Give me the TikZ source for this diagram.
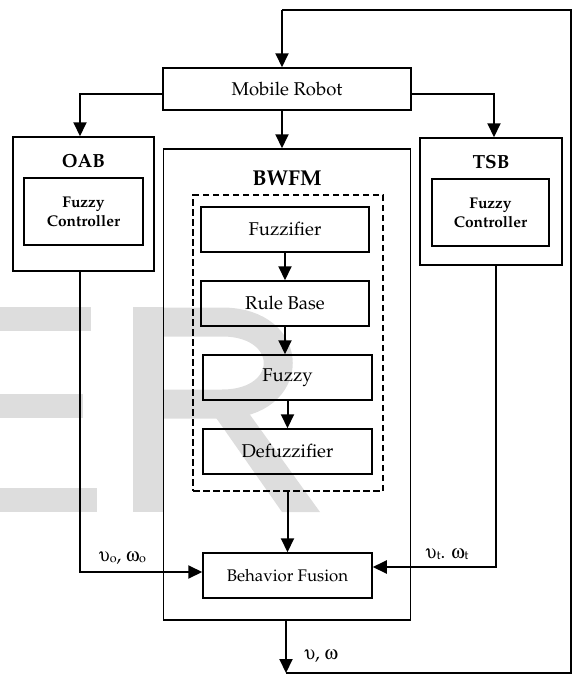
\documentclass[tikz,border=0pt]{standalone}
\usepackage[T1]{fontenc}
\usepackage{mathpazo}
\usepackage[Symbol]{upgreek}
\usetikzlibrary{arrows.meta}

\definecolor{wmgray}{RGB}{221,221,221}

% small lowered index letter used in the signal labels
\newcommand{\sigidx}[1]{\raisebox{-1pt}{\fontsize{12.5}{14}\selectfont #1}}

\tikzset{
  box/.style={draw=black, line width=1.5pt, rectangle, inner sep=0pt,
    font=\fontsize{18.5}{21}\selectfont},
  smallbox/.style={box, align=center,
    font=\fontsize{15.5}{19}\selectfont\bfseries},
  title/.style={font=\fontsize{19}{22}\selectfont\bfseries, inner sep=0pt},
  groupbox/.style={draw=black, line width=1.4pt, dashed,
    dash pattern=on 6.5pt off 3.5pt, rectangle, inner sep=0pt},
  conn/.style={draw=black, line width=2pt,
    -{Triangle[length=14pt,width=13pt]}},
  plain/.style={draw=black, line width=2pt},
  sig/.style={font=\fontsize{19}{21}\selectfont, inner sep=0pt},
}

\begin{document}
\begin{tikzpicture}[x=1pt, y=-1pt]
\useasboundingbox (0,0) rectangle (572,675);

% light background lettering
\begin{scope}[fill=wmgray]
  \fill (0,307) rectangle (91,331);
  \fill (0,394) rectangle (83,418);
  \fill (0,488) rectangle (97,512);
  \fill (133,307) rectangle (163,512);
  \draw[wmgray, line width=29pt] (148,322) -- (222,322)
    .. controls (297,322) and (297,404) .. (222,404) -- (148,404);
  \fill (212,412) -- (248,412) -- (320,512) -- (282,512) -- cycle;
\end{scope}

% main blocks
\node[box, minimum width=248pt, minimum height=42pt] (robot) at (287,89) {Mobile Robot};

\node[box, minimum width=141pt, minimum height=134pt] (oab) at (83.5,204) {};
\node[title] (oabt) at (83.5,161) {OAB};
\node[smallbox, minimum width=119pt, minimum height=67pt] (oabfc) at (83.5,211.5) {Fuzzy\\Controller};

\node[box, minimum width=142pt, minimum height=127pt] (tsb) at (491,201.5) {};
\node[title] (tsbt) at (491,162) {TSB};
\node[smallbox, minimum width=117pt, minimum height=67pt] (tsbfc) at (490.5,212.5) {Fuzzy\\Controller};

\node[box, minimum width=247pt, minimum height=471pt] (bwfm) at (287,384.5) {};
\node[title, font=\fontsize{21.5}{24}\selectfont\bfseries] (bwfmt) at (287,178) {BWFM};
\node[groupbox, minimum width=190pt, minimum height=296pt] (group) at (288,343) {};

\node[box, minimum width=168pt, minimum height=45pt] (fuzzifier) at (285,229.5) {Fuzzifier};
\node[box, minimum width=168pt, minimum height=45pt] (rulebase) at (285,303.5) {Rule Base};
\node[box, minimum width=169pt, minimum height=45pt] (fuzzy) at (287.5,377.5) {Fuzzy};
\node[box, minimum width=169pt, minimum height=45pt] (defuzz) at (287.5,451.5) {Defuzzifier};
\node[box, minimum width=169pt, minimum height=45pt,
  font=\fontsize{16.8}{20}\selectfont] (fusion) at (287.5,575.5) {Behavior Fusion};

% helper points for the loop and the branches
\coordinate (midx) at (282,0);
\coordinate (topy) at (0,10);
\coordinate (rightx) at (571,0);
\coordinate (boty) at (0,673);
\coordinate (outtip) at (286,673);

% distribution from the robot
\draw[conn] (robot.south -| midx) -- (bwfm.north -| midx);
\draw[conn] ([yshift=-5pt]robot.west) -| ([xshift=-3.5pt]oab.north);
\draw[conn] ([yshift=-5pt]robot.east) -| ([xshift=3pt]tsb.north);

% inside the weighting module
\draw[conn] (fuzzifier.south) -- (rulebase.north);
\draw[conn] (rulebase.south) -- (rulebase.south |- fuzzy.north);
\draw[conn] (fuzzy.south) -- (defuzz.north);
\draw[conn] (group.south -| fusion.north) -- (fusion.north);

% behaviour outputs into the fusion block
\draw[conn] ([xshift=-3.5pt]oab.south) |- ([yshift=3.5pt]fusion.west);
\draw[conn] ([xshift=5pt]tsb.south) |- ([yshift=8.5pt]fusion.east);
\node[sig] (vo) at (122.5,558) {$\upupsilon$\sigidx{o}, $\upomega$\sigidx{o}};
\node[sig] (vt) at (447,554) {$\upupsilon$\sigidx{t}. $\upomega$\sigidx{t}};

% fused command and feedback loop
\draw[conn] (bwfm.south -| outtip) -- (outtip);
\node[sig] (vw) at (321,656) {$\upupsilon$, $\upomega$};
\draw[plain] (outtip) -- (boty -| rightx) -- (topy -| rightx) -- (topy -| midx);
\draw[conn] (topy -| midx) -- (robot.north -| midx);
\end{tikzpicture}
\end{document}
